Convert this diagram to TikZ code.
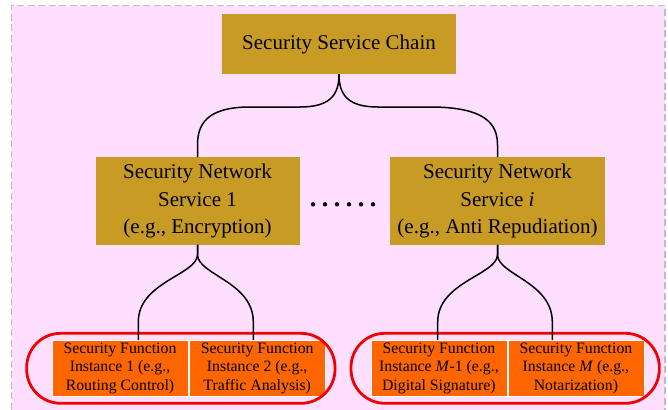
\documentclass[tikz,border=0pt]{standalone}
\usepackage{fontspec}
\setmainfont{Liberation Serif}
\definecolor{bgpink}{RGB}{255,223,255}
\definecolor{gold}{RGB}{200,155,36}
\definecolor{fnorange}{RGB}{255,102,0}
\definecolor{pillred}{RGB}{240,0,0}
\definecolor{dashgray}{RGB}{190,190,190}
\tikzset{
  goldbox/.style={rectangle, fill=gold, inner sep=0pt, align=center,
    font=\fontsize{21}{27.3}\selectfont},
  fnbox/.style={rectangle, fill=fnorange, draw=white, line width=0.8pt, inner sep=0pt,
    align=center, minimum height=56.7pt, minimum width=136pt,
    font=\fontsize{15.8}{18.5}\selectfont},
  pill/.style={draw=pillred, line width=2.8pt, rounded corners=34pt},
  bracel/.style={draw=black, line width=1.5pt},
}
\begin{document}
\begin{tikzpicture}[x=1pt,y=-1pt]
\useasboundingbox (0,0) rectangle (668,409);
\fill[bgpink] (11.7,5.7) rectangle (665,420);
\draw[dashgray, line width=1.2pt, dash pattern=on 7pt off 3.5pt] (11.7,420) -- (11.7,5.7) -- (665,5.7) -- (665,420);

\node[goldbox, minimum width=234pt, minimum height=60pt] (chain) at (339,44) {Security Service Chain};
\node[goldbox, minimum width=204pt, minimum height=87.4pt] (sns1) at (197.5,201) {Security Network\\Service 1\\(e.g., Encryption)};
\node[goldbox, minimum width=215pt, minimum height=87.4pt] (snsi) at (497.5,201) {Security Network\\Service \textit{i}\\(e.g., Anti Repudiation)};

\foreach \k in {0,...,5} \fill (313+\k*12,204.3) circle (2.2pt);

\node[fnbox] (f1) at (120,368.3) {Security Function\\Instance 1 (e.g.,\\Routing Control)};
\node[fnbox] (f2) at (257.2,368.3) {Security Function\\Instance 2 (e.g.,\\Traffic Analysis)};
\node[fnbox] (f3) at (438.9,368.3) {Security Function\\Instance \textit{M}-1 (e.g.,\\Digital Signature)};
\node[fnbox] (f4) at (575.9,368.3) {Security Function\\Instance \textit{M} (e.g.,\\Notarization)};

\draw[pill] (26.7,333.3) rectangle (335,403.3);
\draw[pill] (351,333.3) rectangle (659.3,403.3);

% upper brace
\draw[bracel] (chain.south) .. controls (339,95) and (330,107) .. (300,107) -- (250,107)
  .. controls (206,107) and (197.5,125) .. (197.5,145) -- (sns1.north);
\draw[bracel] (chain.south) .. controls (339,95) and (348,107) .. (378,107) -- (430,107)
  .. controls (487,107) and (497.5,125) .. (497.5,145) -- (snsi.north);

% lower braces
\draw[bracel] (sns1.south) -- (197.5,255) .. controls (196.5,275) and (138.3,282) .. (138.3,322) -- (138.3,340);
\draw[bracel] (sns1.south) -- (197.5,255) .. controls (198.5,275) and (253.3,282) .. (253.3,322) -- (253.3,340);
\draw[bracel] (snsi.south) -- (497.5,255) .. controls (496.5,275) and (437.7,282) .. (437.7,322) -- (437.7,340);
\draw[bracel] (snsi.south) -- (497.5,255) .. controls (498.5,275) and (552.3,282) .. (552.3,322) -- (552.3,340);
\end{tikzpicture}
\end{document}
